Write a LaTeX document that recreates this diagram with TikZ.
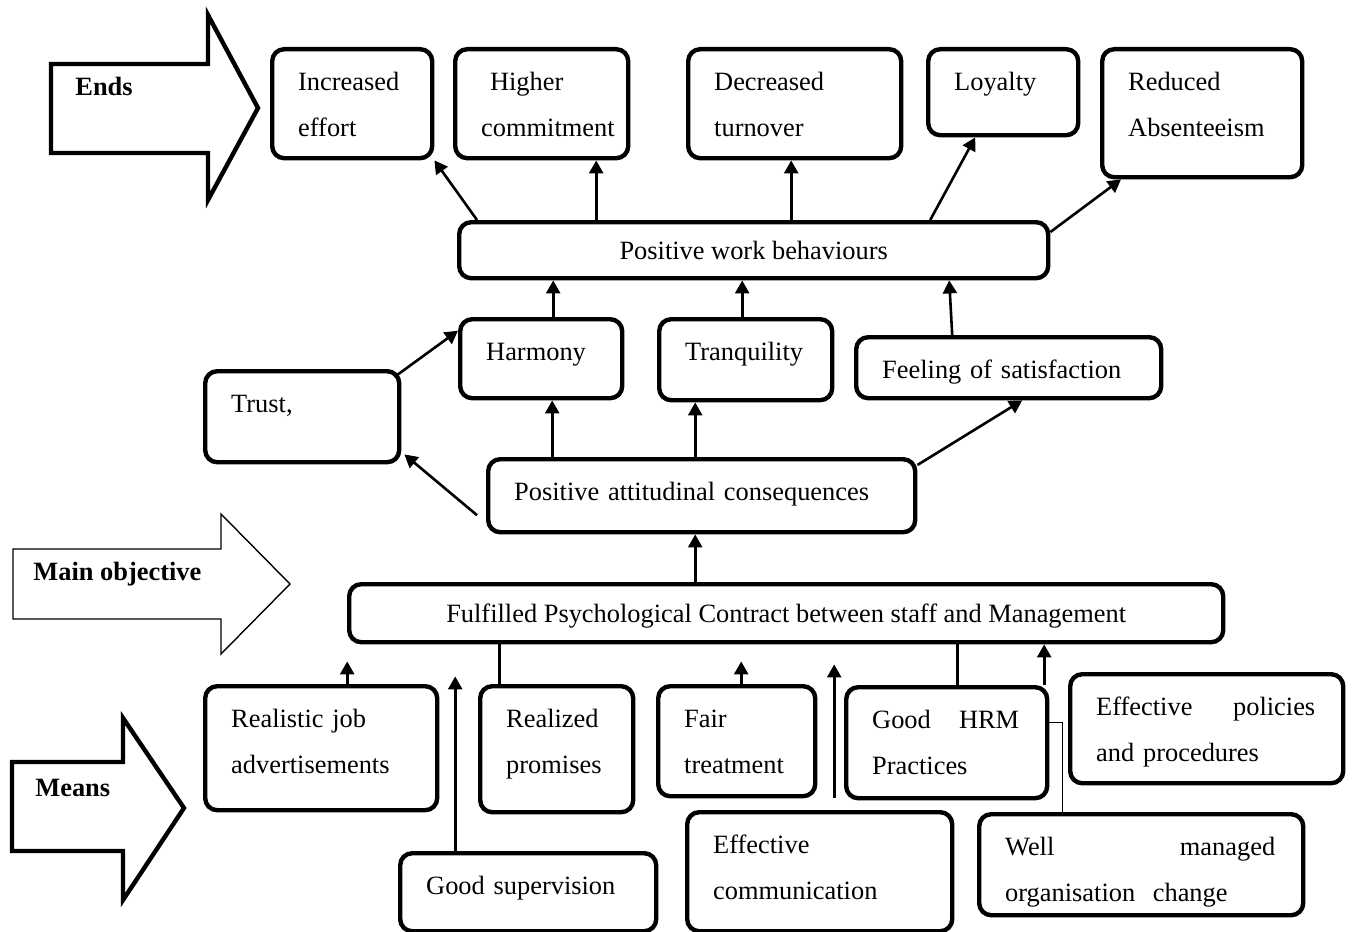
\documentclass[tikz,border=0pt]{standalone}
\usepackage{fontspec}
\setmainfont{Liberation Serif}
\usetikzlibrary{arrows.meta}

\begin{document}
\begin{tikzpicture}[x=0.5pt,y=-0.5pt,
  font=\fontsize{13.2}{23}\selectfont,
  frame/.style={draw,line width=2.2pt,rounded corners=6pt,anchor=north west,inner sep=0pt},
  box/.style={frame,align=left,text height=20.5pt,
    execute at begin node={\leftskip=13pt\rightskip=14pt plus 1fil}},
  bar/.style={frame,text height=9pt,text depth=0pt},
  tag/.style={anchor=base west,inner sep=0pt,font=\fontsize{13.2}{16}\selectfont\bfseries},
  link/.style={line width=1.3pt},
  arr/.style={link,-{Triangle[length=6.5pt,width=7pt]}}]
\useasboundingbox (0,0) rectangle (1353,931);

%big arrows on the left
\draw[line width=2.2pt] (51,64) -- (208,64) -- (208,15) -- (258,108) -- (208,200) -- (208,153) -- (51,153) -- cycle; %ends
\draw[line width=0.7pt] (13,549) -- (221,549) -- (221,514) -- (290,584) -- (221,654) -- (221,619) -- (13,619) -- cycle; %objective
\draw[line width=2.2pt] (12,762) -- (123,762) -- (123,718) -- (184,808) -- (123,900) -- (123,851) -- (12,851) -- cycle; %means
\node[tag] (ends) at (75,96) {Ends};
\node[tag] (mainobj) at (33,580) {Main objective};
\node[tag] (means) at (35,796) {Means};

%ends
\node[box,text width=80pt,text depth=34pt] (inc) at (270,47) {Increased\\effort};
\node[box,text width=86.5pt,text depth=34pt] (high) at (453,47) {\ Higher\\commitment};
\node[box,text width=106.5pt,text depth=34pt] (dec) at (686,47) {Decreased\\turnover};
\node[box,text width=75pt,text depth=22.5pt] (loy) at (926,47) {Loyalty};
\node[box,text width=100pt,text depth=43.5pt] (red) at (1100,47) {Reduced\\Absenteeism};

\node[bar,minimum width=294.5pt,minimum height=28pt] (pwb) at (457,220) {Positive work behaviours};

%attitudes
\node[box,text width=81pt,text depth=19pt] (harm) at (458,317) {Harmony};
\node[box,text width=86.5pt,text depth=20pt] (tranq) at (657,317) {Tranquility};
\node[box,text width=152.5pt,text depth=10pt] (feel) at (854,335) {Feeling of satisfaction};
\node[box,text width=97pt,text depth=25pt] (trust) at (203,369) {Trust,};
\node[box,text width=213.5pt,text depth=16pt] (pac) at (486,457) {Positive attitudinal consequences};

\node[bar,minimum width=437pt,minimum height=29pt] (fpc) at (347,582) {Fulfilled Psychological Contract between staff and Management};

%means
\node[box,text width=116pt,text depth=41.5pt] (real) at (203,684) {Realistic job\\advertisements};
\node[box,text width=76.5pt,text depth=42.5pt] (prom) at (478,684) {Realized\\promises};
\node[box,text width=78.5pt,text depth=34.5pt] (fair) at (656,684) {Fair\\treatment};
\node[box,text width=128pt,text depth=18.5pt] (sup) at (398,851) {Good supervision};
\node[box,text width=132.5pt,text depth=39pt] (comm) at (685,810) {Effective\\communication};
\node[box,text width=100.5pt,text depth=35pt] (hrm) at (844,685) {Good\hfill HRM\\Practices};
\node[box,text width=136.5pt,text depth=34pt] (pol) at (1068,672) {Effective\hfill policies\\and procedures};
\node[box,text width=162pt,text depth=30pt] (well) at (977,812) {Well\hfill managed\\organisation\ \ change};

%behaviours -> ends
\draw[arr] ([xshift=10pt]pwb.north west) -- (inc.south east);
\draw[arr] ([xshift=-78.75pt]pwb.north) -- ([xshift=27.25pt]high.south);
\draw[arr] ([xshift=18.75pt]pwb.north) -- ([xshift=-1.75pt]dec.south);
\draw[arr] ([xshift=88.25pt]pwb.north) -- ([xshift=-14pt]loy.south);
\draw[arr] ([yshift=-6pt]pwb.north east) -- ([xshift=10.5pt]red.south west);

%attitudes -> behaviours
\draw[arr] ([xshift=6pt]harm.north) -- ([xshift=-100.25pt]pwb.south);
\draw[arr] ([xshift=-1.75pt]tranq.north) -- ([xshift=-5.75pt]pwb.south);
\draw[arr] ([xshift=-28.25pt]feel.north) -- ([xshift=97.75pt]pwb.south);
\draw[arr] ([shift={(-3.5pt,-4pt)}]trust.north east) -- ([yshift=14pt]harm.west);

%consequences
\draw[arr] ([xshift=-74.75pt]pac.north) -- ([xshift=5.5pt]harm.south);
\draw[arr] ([xshift=-3.25pt]pac.north) -- ([xshift=-25.25pt]tranq.south);
\draw[arr] ([shift={(-4.5pt,-9.75pt)}]pac.west) -- ([shift={(1.5pt,5pt)}]trust.south east);
\draw[arr] ([yshift=-4pt]pac.north east) -- ([xshift=6.75pt]feel.south);
\draw[arr] ([xshift=-45.5pt]fpc.north) -- ([xshift=-3.25pt]pac.south);

%means -> contract
\draw[arr] ([xshift=13pt]real.north) -- ([shift={(-219.5pt,-8.5pt)}]fpc.south);
\draw[arr] ([xshift=-36.5pt]sup.north) -- ([shift={(-165.5pt,-16pt)}]fpc.south);
\draw[link] ([xshift=-28.75pt]prom.north) -- ([xshift=-143.5pt]fpc.south);
\draw[arr] ([xshift=2.25pt]fair.north) -- ([shift={(-22.5pt,-8.5pt)}]fpc.south);
\draw[arr] ([shift={(7.25pt,6pt)}]comm.north) -- ([shift={(24pt,-10pt)}]fpc.south);
\draw[link] ([xshift=5.25pt]hrm.north) -- ([xshift=85.5pt]fpc.south);
\draw[arr] ([xshift=48.75pt]hrm.north) -- ([xshift=129pt]fpc.south);
\draw[line width=0.6pt] ([xshift=-39.5pt]well.north) |- ([yshift=10.25pt]hrm.east);

\end{tikzpicture}
\end{document}
